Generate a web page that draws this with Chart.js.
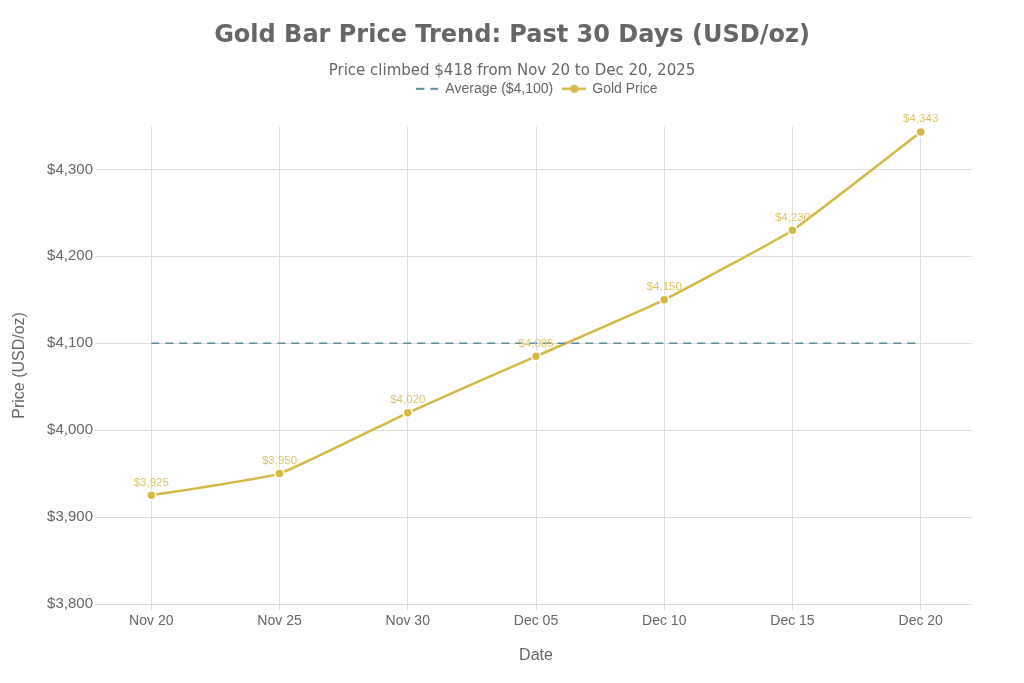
<!DOCTYPE html>
<html>
  <head>
    <title>Gold Bar Price Trend</title>
    <script src="https://cdn.jsdelivr.net/npm/chart.js/dist/chart.umd.min.js"></script>
    <style>
      body { margin: 0; background: #fff; }
    </style>
  </head>
  <body>
    <canvas id="goldChart" width="1024" height="683"></canvas>
    <script>
      // chart data
      const dateLabels = ['Nov 20', 'Nov 25', 'Nov 30', 'Dec 05', 'Dec 10', 'Dec 15', 'Dec 20'];
      const goldPrices = [3925, 3950, 4020, 4085, 4150, 4230, 4343];
      const averagePrice = 4100;
      const yTicks = [3800, 3900, 4000, 4100, 4200, 4300];

      const GOLD = '#d4b844';
      const AVG = '#5c8c98';
      const GREY = '#666666';
      const SANS = '"Liberation Sans", Arial, sans-serif';

      const fmt = v => '$' + v.toLocaleString('en-US');

      // legend symbols
      function dashSymbol() {
        const c = document.createElement('canvas');
        c.width = 22; c.height = 10;
        const x = c.getContext('2d');
        x.strokeStyle = AVG; x.lineWidth = 2;
        x.setLineDash([8, 6]);
        x.beginPath(); x.moveTo(0, 5); x.lineTo(22, 5); x.stroke();
        return c;
      }
      function goldSymbol() {
        const c = document.createElement('canvas');
        c.width = 24; c.height = 10;
        const x = c.getContext('2d');
        x.strokeStyle = GOLD; x.lineWidth = 2.5;
        x.beginPath(); x.moveTo(0, 5); x.lineTo(24, 5); x.stroke();
        x.fillStyle = GOLD;
        x.beginPath(); x.arc(12, 5, 4, 0, Math.PI * 2); x.fill();
        return c;
      }

      // value labels above the gold points
      const valueLabels = {
        id: 'valueLabels',
        afterLayout(chart) {
          // legend sits a little right of centre in the original
          chart.legend.left += 25;
          chart.legend.right += 25;
        },
        afterDatasetsDraw(chart) {
          const meta = chart.getDatasetMeta(1);
          const ctx = chart.ctx;
          ctx.save();
          ctx.font = '11.5px ' + SANS;
          ctx.fillStyle = '#dcc565';
          ctx.textAlign = 'center';
          ctx.textBaseline = 'bottom';
          meta.data.forEach((pt, i) => {
            ctx.fillText(fmt(goldPrices[i]), pt.x, pt.y - 7);
          });
          ctx.restore();
        }
      };

      const avgData = dateLabels.map((d, i) => ({ x: i, y: averagePrice }));
      const goldData = goldPrices.map((v, i) => ({ x: i, y: v }));

      const chart = new Chart(document.getElementById('goldChart'), {
        type: 'line',
        data: {
          datasets: [
            {
              label: 'Average ($4,100)',
              data: avgData,
              borderColor: AVG,
              borderWidth: 1.5,
              borderDash: [8, 6],
              pointRadius: 0
            },
            {
              label: 'Gold Price',
              data: goldData,
              borderColor: GOLD,
              backgroundColor: GOLD,
              borderWidth: 2.5,
              tension: 0.12,
              pointRadius: 4.5,
              pointBackgroundColor: GOLD,
              pointBorderColor: '#ffffff',
              pointBorderWidth: 1.5
            }
          ]
        },
        options: {
          responsive: false,
          animation: false,
          layout: { padding: { left: 6, right: 6, top: 14, bottom: 18 } },
          plugins: {
            title: {
              display: true,
              text: 'Gold Bar Price Trend: Past 30 Days (USD/oz)',
              color: GREY,
              font: { family: '"DejaVu Sans", sans-serif', size: 24, weight: 'bold' },
              padding: { top: 7, bottom: 12 }
            },
            subtitle: {
              display: true,
              text: 'Price climbed $418 from Nov 20 to Dec 20, 2025',
              color: GREY,
              font: { family: '"DejaVu Sans", sans-serif', size: 15 },
              padding: { top: 0, bottom: -8 }
            },
            legend: {
              labels: {
                usePointStyle: true,
                pointStyleWidth: 22,
                color: GREY,
                font: { family: SANS, size: 14 },
                padding: 10,
                generateLabels(ch) {
                  return ch.data.datasets.map((ds, i) => ({
                    text: ds.label,
                    datasetIndex: i,
                    fontColor: GREY,
                    pointStyle: i === 0 ? dashSymbol() : goldSymbol(),
                    lineWidth: 0,
                    strokeStyle: 'transparent',
                    fillStyle: 'transparent'
                  }));
                }
              }
            },
            tooltip: { enabled: false }
          },
          scales: {
            x: {
              type: 'linear',
              min: -0.4,
              max: 6.4,
              afterBuildTicks(axis) {
                axis.ticks = dateLabels.map((d, i) => ({ value: i }));
              },
              ticks: {
                color: GREY,
                font: { family: SANS, size: 14 },
                padding: 3,
                callback: v => dateLabels[v]
              },
              grid: { color: '#dddddd', tickLength: 6 },
              border: { display: false },
              title: {
                display: true,
                text: 'Date',
                color: GREY,
                font: { family: SANS, size: 16 },
                padding: { top: 13, bottom: 0 }
              }
            },
            // spacer between legend and plot
            xTop: {
              type: 'linear',
              position: 'top',
              display: true,
              ticks: { display: false },
              grid: { display: false },
              border: { display: false },
              afterFit(axis) { axis.height = 21; }
            },
            y: {
              min: 3800,
              max: 4349,
              afterBuildTicks(axis) {
                axis.ticks = yTicks.map(v => ({ value: v }));
              },
              afterFit(axis) { axis.width = 94; },
              ticks: {
                color: GREY,
                font: { family: SANS, size: 15 },
                padding: 2,
                callback: v => fmt(v)
              },
              grid: { color: '#dddddd', tickLength: 5 },
              border: { display: false },
              title: {
                display: true,
                text: 'Price (USD/oz)',
                color: GREY,
                font: { family: SANS, size: 16 },
                padding: { top: 4, bottom: 0 }
              }
            },
            // spacer on the right so titles stay centred on the page
            yRight: {
              type: 'linear',
              position: 'right',
              display: true,
              ticks: { display: false },
              grid: { display: false },
              border: { display: false },
              afterFit(axis) { axis.width = 46; }
            }
          }
        },
        plugins: [valueLabels]
      });
    </script>
  </body>
</html>
